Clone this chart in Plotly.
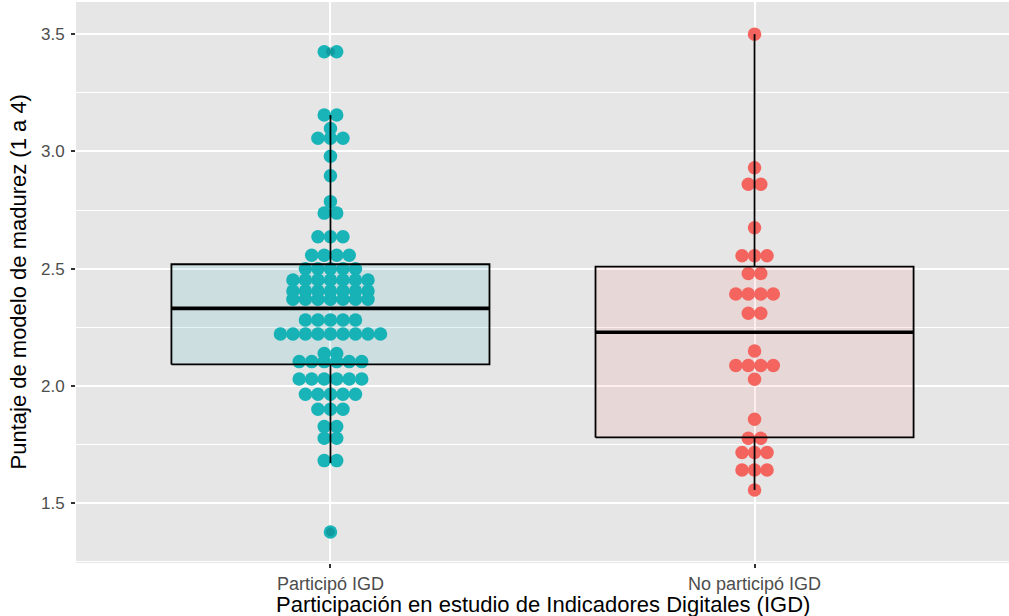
import plotly.graph_objects as go

# ---------------- data ----------------
categories = ["Participó IGD", "No participó IGD"]

# dot-plot rows (bin value, number of dots in that row)
g1_values = [3.425, 3.155, 3.098, 3.056, 2.979, 2.896, 2.786, 2.737, 2.636, 2.557,
             2.500, 2.452, 2.405, 2.370, 2.281, 2.222, 2.139, 2.104, 2.030, 1.965,
             1.901, 1.827, 1.777, 1.682, 1.378]
g1_counts = [2, 2, 1, 3, 1, 1, 1, 2, 3, 4,
             5, 7, 7, 7, 5, 9, 2, 6, 6, 5,
             3, 2, 2, 2, 1]

g2_values = [3.500, 2.930, 2.860, 2.675, 2.555, 2.480, 2.392, 2.310, 2.149, 2.087,
             2.029, 1.858, 1.777, 1.717, 1.642, 1.557]
g2_counts = [1, 1, 2, 1, 3, 2, 4, 2, 1, 4,
             1, 1, 2, 3, 3, 1]

# box statistics: lower whisker, q1, median, q3, upper whisker
box_lower = [1.672, 1.557]
box_q1 = [2.092, 1.781]
box_median = [2.331, 2.229]
box_q3 = [2.519, 2.509]
box_upper = [3.155, 3.500]
g1_outliers = [3.425, 1.378]

y_ticks = [1.5, 2.0, 2.5, 3.0, 3.5]
y_minor = [1.25, 1.75, 2.25, 2.75, 3.25]

# ---------------- style ----------------
dot_colors = ["#19B4B8", "#F4645F"]
box_fills = ["rgba(0,165,175,0.11)", "rgba(248,110,100,0.11)"]
BOX_W = 0.75
DOT_DX = 0.0295
DOT_SIZE = 13.5
FONT = "Liberation Sans, Arial, Helvetica, sans-serif"

fig = go.Figure()

groups = [(g1_values, g1_counts), (g2_values, g2_counts)]
for gi, (vals, cnts) in enumerate(groups):
    center = gi + 1
    xs, ys = [], []
    for v, n in zip(vals, cnts):
        for i in range(n):
            xs.append(center + (i - (n - 1) / 2) * DOT_DX)
            ys.append(v)
    fig.add_trace(go.Scatter(
        x=xs, y=ys, mode="markers",
        marker=dict(size=DOT_SIZE, color=dot_colors[gi], line=dict(width=0)),
        showlegend=False, hoverinfo="skip"))

# outliers of first group (boxplot outlier points)
fig.add_trace(go.Scatter(
    x=[1] * len(g1_outliers), y=g1_outliers, mode="markers",
    marker=dict(size=9, color="rgba(0,110,115,0.35)", line=dict(width=0)),
    showlegend=False, hoverinfo="skip"))

# boxes drawn on top of dots
for gi in range(len(categories)):
    c = gi + 1
    l, r = c - BOX_W / 2, c + BOX_W / 2
    fig.add_trace(go.Scatter(
        x=[l, r, r, l, l],
        y=[box_q1[gi], box_q1[gi], box_q3[gi], box_q3[gi], box_q1[gi]],
        mode="lines", fill="toself", fillcolor=box_fills[gi],
        line=dict(color="black", width=1.8),
        showlegend=False, hoverinfo="skip"))
    fig.add_trace(go.Scatter(
        x=[c, c, None, c, c],
        y=[box_q3[gi], box_upper[gi], None, box_q1[gi], box_lower[gi]],
        mode="lines", line=dict(color="black", width=1.8),
        showlegend=False, hoverinfo="skip"))
    fig.add_trace(go.Scatter(
        x=[l, r], y=[box_median[gi], box_median[gi]],
        mode="lines", line=dict(color="black", width=3.6),
        showlegend=False, hoverinfo="skip"))

fig.update_layout(
    width=1009, height=616,
    margin=dict(l=76, r=0, t=2, b=53),
    paper_bgcolor="white", plot_bgcolor="#E6E6E6",
    font=dict(family=FONT, color="#4D4D4D"),
    hovermode=False,
    xaxis=dict(
        range=[0.4, 2.6], tickvals=[1, 2], ticktext=categories,
        showgrid=True, gridcolor="white", gridwidth=1.6,
        zeroline=False, showline=False,
        ticks="outside", ticklen=4, tickwidth=1.5, tickcolor="#333333",
        tickfont=dict(size=18, color="#4D4D4D", family=FONT),
    ),
    yaxis=dict(
        range=[1.2455, 3.637], tickvals=y_ticks,
        ticktext=[f"{t:.1f}" for t in y_ticks],
        showgrid=True, gridcolor="white", gridwidth=1.6,
        zeroline=False, showline=False,
        ticks="outside", ticklen=4, tickwidth=1.5, tickcolor="#333333",
        ticklabelstandoff=3,
        tickfont=dict(size=17, color="#4D4D4D", family=FONT),
        minor=dict(tickvals=y_minor, showgrid=True, gridcolor="white",
                   gridwidth=0.8, ticks=""),
    ),
    annotations=[
        dict(text="Participación en estudio de Indicadores Digitales (IGD)",
             xref="paper", yref="paper", x=0.5, y=0, xanchor="center",
             yanchor="middle", yshift=-41, showarrow=False,
             font=dict(size=22, color="black", family=FONT)),
        dict(text="Puntaje de modelo de madurez (1 a 4)",
             xref="paper", yref="paper", x=0, y=0.5, xanchor="center",
             yanchor="middle", xshift=-58, textangle=-90, showarrow=False,
             font=dict(size=22, color="black", family=FONT)),
    ],
)

fig.write_html(
    "out.html",
    config={"displayModeBar": False},
    post_script="document.body.style.margin='0';document.body.style.overflow='hidden';",
)
